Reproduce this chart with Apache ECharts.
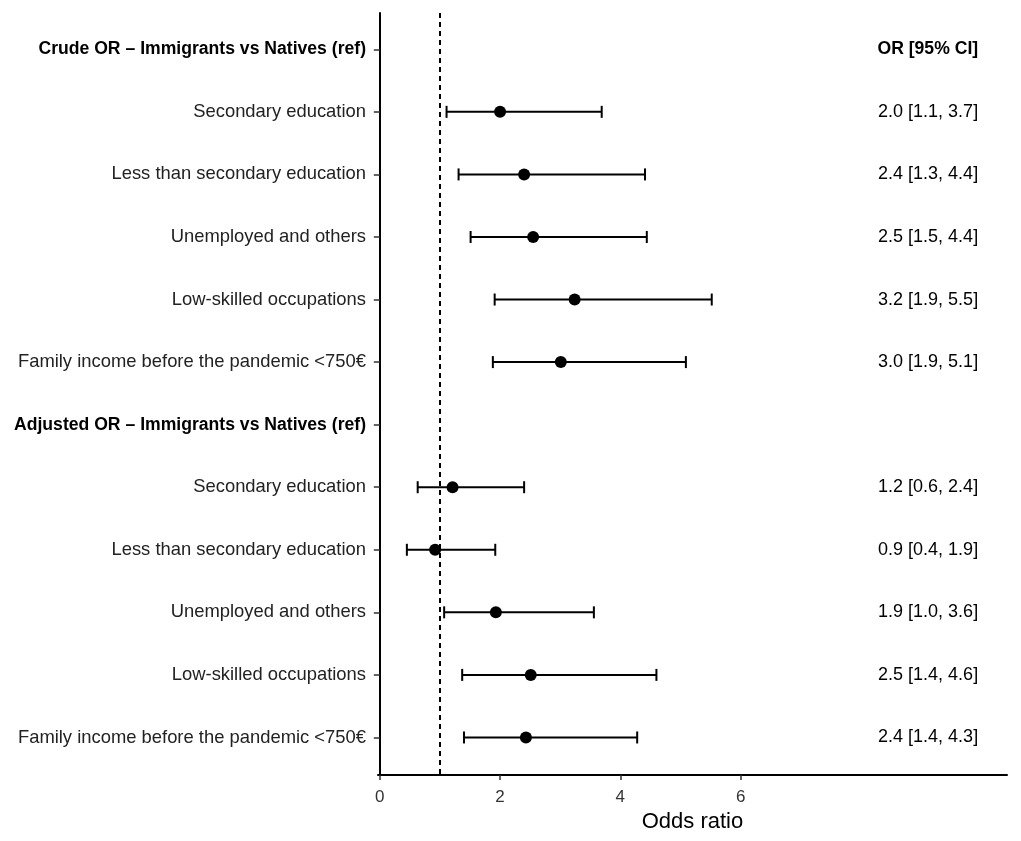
<!DOCTYPE html>
<html>
<head>
<meta charset="utf-8">
<script src="https://cdn.jsdelivr.net/npm/echarts@6/dist/echarts.min.js"></script>
<style>
  html, body { margin: 0; padding: 0; background: #fff; }
  #chart { width: 1021px; height: 841px; }
</style>
</head>
<body>
<div id="chart"></div>
<script>
// rows from top to bottom
var rowNames = [
    'Crude OR \u2013 Immigrants vs Natives (ref)',
    'Secondary education',
    'Less than secondary education',
    'Unemployed and others',
    'Low-skilled occupations',
    'Family income before the pandemic <750\u20ac',
    'Adjusted OR \u2013 Immigrants vs Natives (ref)',
    'Secondary education',
    'Less than secondary education',
    'Unemployed and others',
    'Low-skilled occupations',
    'Family income before the pandemic <750\u20ac'
];
var isHeader = [true, false, false, false, false, false, true, false, false, false, false, false];

// odds ratio and 95% CI (null for header rows)
var orValue = [null, 2.0, 2.4, 2.55, 3.24, 3.01, null, 1.21, 0.92, 1.93, 2.51, 2.43];
var ciLow   = [null, 1.11, 1.31, 1.51, 1.91, 1.88, null, 0.63, 0.45, 1.07, 1.37, 1.40];
var ciHigh  = [null, 3.69, 4.41, 4.44, 5.52, 5.09, null, 2.40, 1.92, 3.56, 4.60, 4.28];

// text column on the right
var orText = [
    'OR [95% CI]',
    '2.0 [1.1, 3.7]', '2.4 [1.3, 4.4]', '2.5 [1.5, 4.4]', '3.2 [1.9, 5.5]', '3.0 [1.9, 5.1]',
    '',
    '1.2 [0.6, 2.4]', '0.9 [0.4, 1.9]', '1.9 [1.0, 3.6]', '2.5 [1.4, 4.6]', '2.4 [1.4, 4.3]'
];
var xTicks = [0, 2, 4, 6];
var refLine = 1;
var textX = 9.95;

var rowPos = rowNames.map(function (n, i) { return i + 1; });

var barData = [], pointData = [], textData = [];
rowPos.forEach(function (y, i) {
    if (orValue[i] !== null) {
        barData.push([ciLow[i], ciHigh[i], y]);
        pointData.push([orValue[i], y]);
    }
    if (orText[i]) textData.push([textX, y, orText[i], isHeader[i] ? 1 : 0]);
});

var font = '"Liberation Sans", Arial, sans-serif';

var option = {
    animation: false,
    backgroundColor: '#fff',
    grid: { left: 378, right: 14, top: 13, bottom: 66 },
    xAxis: {
        type: 'value',
        min: -0.03,
        max: 10.43,
        name: 'Odds ratio',
        nameLocation: 'middle',
        nameGap: 36,
        nameTextStyle: { fontFamily: font, fontSize: 22, color: '#000' },
        axisLine: { show: true, lineStyle: { color: '#000', width: 2 } },
        axisTick: { show: true, customValues: xTicks, length: 5, lineStyle: { color: '#333', width: 1.5 } },
        axisLabel: { customValues: xTicks, fontFamily: font, fontSize: 17, color: '#333', margin: 14 },
        splitLine: { show: false }
    },
    yAxis: {
        type: 'value',
        inverse: true,
        min: 0.42,
        max: 12.6,
        axisLine: { show: true, lineStyle: { color: '#000', width: 2 } },
        axisTick: { show: true, customValues: rowPos, length: 6, lineStyle: { color: '#333', width: 1.5 } },
        axisLabel: {
            customValues: rowPos,
            margin: 12,
            fontFamily: font,
            fontSize: 18.4,
            color: '#222',
            formatter: function (v) {
                var i = Math.round(v) - 1;
                return isHeader[i] ? '{h|' + rowNames[i] + '}' : rowNames[i];
            },
            rich: {
                h: { fontFamily: font, fontSize: 17.6, fontWeight: 'bold', color: '#000' }
            }
        },
        splitLine: { show: false }
    },
    series: [
        {
            type: 'custom',
            data: barData,
            renderItem: function (params, api) {
                var lo = api.coord([api.value(0), api.value(2)]);
                var hi = api.coord([api.value(1), api.value(2)]);
                var cap = 6;
                var st = { stroke: '#000', lineWidth: 2 };
                return {
                    type: 'group',
                    children: [
                        { type: 'line', shape: { x1: lo[0], y1: lo[1], x2: hi[0], y2: hi[1] }, style: st },
                        { type: 'line', shape: { x1: lo[0], y1: lo[1] - cap, x2: lo[0], y2: lo[1] + cap }, style: st },
                        { type: 'line', shape: { x1: hi[0], y1: hi[1] - cap, x2: hi[0], y2: hi[1] + cap }, style: st }
                    ]
                };
            },
            z: 2
        },
        {
            type: 'scatter',
            data: pointData,
            symbol: 'circle',
            symbolSize: 12,
            itemStyle: { color: '#000', opacity: 1 },
            z: 3,
            markLine: {
                silent: true,
                symbol: 'none',
                label: { show: false },
                lineStyle: { color: '#000', type: [5, 4], width: 2, opacity: 1 },
                data: [{ xAxis: refLine }]
            }
        },
        {
            type: 'custom',
            data: textData,
            renderItem: function (params, api) {
                var p = api.coord([api.value(0), api.value(1)]);
                return {
                    type: 'text',
                    style: {
                        x: p[0],
                        y: p[1],
                        text: textData[params.dataIndex][2],
                        align: 'right',
                        verticalAlign: 'middle',
                        fontFamily: font,
                        fontSize: api.value(3) ? 17.6 : 18,
                        fontWeight: api.value(3) ? 'bold' : 'normal',
                        fill: '#000'
                    }
                };
            }
        }
    ]
};

var chart = echarts.init(document.getElementById('chart'));
chart.setOption(option);
</script>
</body>
</html>
